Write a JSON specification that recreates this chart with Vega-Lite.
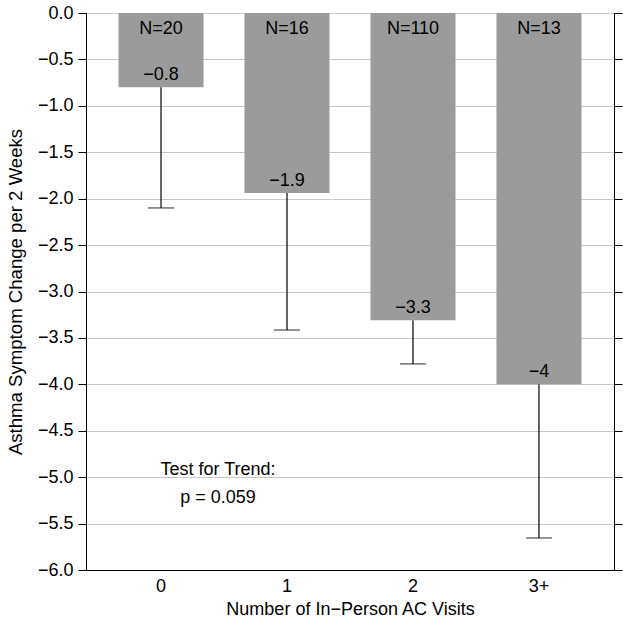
{
  "$schema": "https://vega.github.io/schema/vega-lite/v6.json",
  "width": 528,
  "height": 557,
  "autosize": "none",
  "padding": {"left": 86, "top": 13, "right": 15, "bottom": 57},
  "background": "white",
  "config": {
    "font": "Liberation Sans",
    "view": {"stroke": "black", "strokeWidth": 1},
    "axis": {"labelFont": "Liberation Sans", "titleFont": "Liberation Sans", "labelColor": "black", "titleColor": "black", "domainColor": "black", "tickColor": "black", "labelFontSize": 18, "titleFontSize": 18, "titleFontWeight": "normal"}
  },
  "data": {
    "values": [
      {"visits": "0", "mean": -0.8, "lower": -2.1, "n": "N=20"},
      {"visits": "1", "mean": -1.94, "lower": -3.415, "n": "N=16"},
      {"visits": "2", "mean": -3.31, "lower": -3.78, "n": "N=110"},
      {"visits": "3+", "mean": -4.0, "lower": -5.655, "n": "N=13"}
    ]
  },
  "encoding": {
    "x": {"field": "visits", "type": "nominal", "sort": ["0", "1", "2", "3+"],
      "scale": {"paddingInner": 0.325, "paddingOuter": 0.258}}
  },
  "layer": [
    {
      "mark": {"type": "bar", "color": "#9b9b9b"},
      "encoding": {
        "x": {"field": "visits", "type": "nominal", "sort": ["0", "1", "2", "3+"],
          "axis": {"title": "Number of In\u2212Person AC Visits", "labelAngle": 0, "ticks": false, "labelPadding": 7, "titlePadding": 5, "domain": true}},
        "y": {"field": "mean", "type": "quantitative",
          "scale": {"domain": [-6, 0], "nice": false, "zero": false},
          "axis": {"orient": "left", "title": "Asthma Symptom Change per 2 Weeks", "titleFontSize": 18.6, "values": [-6, -5.5, -5, -4.5, -4, -3.5, -3, -2.5, -2, -1.5, -1, -0.5, 0], "format": ".1f", "tickSize": 8, "labelPadding": 5, "titlePadding": 12, "grid": true, "gridColor": "#c8c8c8", "gridWidth": 1}}
      }
    },
    {
      "mark": {"type": "rule", "color": "black", "strokeWidth": 1.2},
      "encoding": {
        "y": {"field": "mean", "type": "quantitative",
          "axis": {"orient": "right", "title": null, "labels": false, "grid": false, "values": [-6, -5.5, -5, -4.5, -4, -3.5, -3, -2.5, -2, -1.5, -1, -0.5, 0], "tickSize": 8}},
        "y2": {"field": "lower"}
      }
    },
    {
      "mark": {"type": "tick", "color": "black", "thickness": 1.2, "size": 26},
      "encoding": {
        "y": {"field": "lower", "type": "quantitative", "axis": null}
      }
    },
    {
      "mark": {"type": "text", "fontSize": 18, "color": "black", "baseline": "alphabetic", "dy": 21},
      "encoding": {
        "y": {"datum": 0, "type": "quantitative", "axis": null},
        "text": {"field": "n"}
      }
    },
    {
      "mark": {"type": "text", "fontSize": 18, "color": "black", "baseline": "alphabetic", "dy": -7},
      "encoding": {
        "y": {"field": "mean", "type": "quantitative", "axis": null},
        "text": {"field": "mean", "format": ".1~f"}
      }
    },
    {
      "data": {"values": [{"visits": "0", "ypos": -4.98, "line1": "Test for Trend:", "line2": "p = 0.059"}]},
      "mark": {"type": "text", "fontSize": 18, "color": "black", "baseline": "alphabetic", "align": "center", "dx": 57, "lineHeight": 28},
      "encoding": {
        "y": {"field": "ypos", "type": "quantitative", "axis": null},
        "text": {"value": ["Test for Trend:", "p = 0.059"]}
      }
    }
  ],
  "resolve": {"axis": {"y": "independent"}}
}
